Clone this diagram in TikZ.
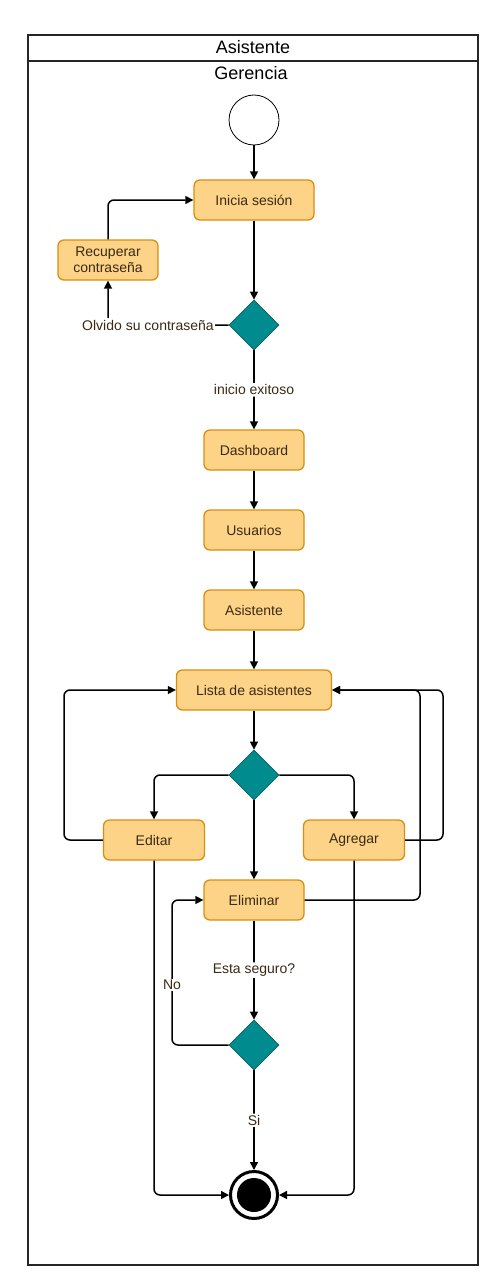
\documentclass[tikz,border=0pt]{standalone}
\usepackage{fontspec}
\setmainfont{Liberation Sans}
\usetikzlibrary{shapes.geometric,arrows.meta}
\definecolor{actfill}{HTML}{FDD387}
\definecolor{actdraw}{HTML}{D88F10}
\definecolor{decfill}{HTML}{008B8E}
\definecolor{decdraw}{HTML}{0E5C5C}
\definecolor{txt}{HTML}{3A2A14}
\tikzset{
  act/.style={rectangle, rounded corners=6pt, draw=actdraw, fill=actfill, line width=1.3pt, minimum height=40pt, text=txt, font=\fontsize{14}{16}\selectfont, align=center, inner sep=0pt},
  dec/.style={diamond, draw=decdraw, fill=decfill, line width=0.8pt, minimum width=50pt, minimum height=50pt, inner sep=0pt},
  flow/.style={draw=black, line width=1.5pt, -{Triangle[length=8pt,width=8pt]}, rounded corners=6pt},
  lbl/.style={fill=white, text=txt, font=\fontsize{14}{16}\selectfont, inner sep=1.5pt}
}
\begin{document}
\begin{tikzpicture}[x=1pt,y=-1pt]
\useasboundingbox (0,0) rectangle (499,1284);
\fill[white] (0,0) rectangle (499,1284);
% swimlane
\draw[line width=1.3pt, draw=black!85] (28,35) rectangle (478,1265);
\draw[line width=1.3pt, draw=black!85] (28,61) -- (478,61);
\node[font=\fontsize{18}{20}\selectfont] (hdr) at (253,47) {Asistente};
\node[font=\fontsize{18}{20}\selectfont] (lane) at (251,73) {Gerencia};
% nodes
\node[circle, draw=black, line width=0.8pt, fill=white, minimum size=50pt, inner sep=0pt] (start) at (254,120) {};
\node[act, minimum width=120pt] (ini) at (254,200) {Inicia sesión};
\node[act, minimum width=100pt] (rec) at (108,260) {Recuperar\\contraseña};
\node[dec] (d1) at (254,325) {};
\node[act, minimum width=100pt] (dash) at (254,450) {Dashboard};
\node[act, minimum width=100pt] (usu) at (254,530) {Usuarios};
\node[act, minimum width=100pt] (asi) at (254,610) {Asistente};
\node[act, minimum width=155pt] (lista) at (254,690) {Lista de asistentes};
\node[dec] (d2) at (254,775) {};
\node[act, minimum width=101pt] (edi) at (154,840) {Editar};
\node[act, minimum width=101pt] (agr) at (354,840) {Agregar};
\node[act, minimum width=100pt] (eli) at (254,900) {Eliminar};
\node[dec] (d3) at (254,1045) {};
\node[circle, draw=black, line width=3pt, fill=white, minimum size=47pt, inner sep=0pt] (fin) at (254,1195) {};
\node[circle, fill=black, minimum size=34pt, inner sep=0pt] (finin) at (254,1195) {};
% connectors
\draw[flow] (start) -- (ini);
\draw[flow] (ini) -- (d1);
\draw[flow] (d1.west) -- (108,325) -- (rec.south);
\node[lbl] (lolv) at (148,325) {Olvido su contraseña};
\draw[flow] (rec.north) |- (ini.west);
\draw[flow] (d1) -- node[lbl] (lini) {inicio exitoso} (dash);
\draw[flow] (dash) -- (usu);
\draw[flow] (usu) -- (asi);
\draw[flow] (asi) -- (lista);
\draw[flow] (lista) -- (d2);
\draw[flow] (d2.west) -| (edi.north);
\draw[flow] (d2.east) -| (agr.north);
\draw[flow] (d2) -- (eli);
\draw[flow] (edi.west) -- (64,840) |- (lista.west);
\draw[flow] (agr.east) -- (443,840) |- (lista.east);
\draw[flow] (eli.east) -- (420,900) |- (lista.east);
\draw[flow] (eli) -- node[lbl, pos=0.5] (lseg) {Esta seguro?} (d3);
\draw[flow] (d3.west) -- (172,1045) |- (eli.west);
\node[lbl] (lno) at (172,985) {No};
\draw[flow] (d3) -- node[lbl, pos=0.5] (lsi) {Si} (fin);
\draw[flow] (edi.south) |- (fin.west);
\draw[flow] (agr.south) |- (fin.east);
\end{tikzpicture}
\end{document}
